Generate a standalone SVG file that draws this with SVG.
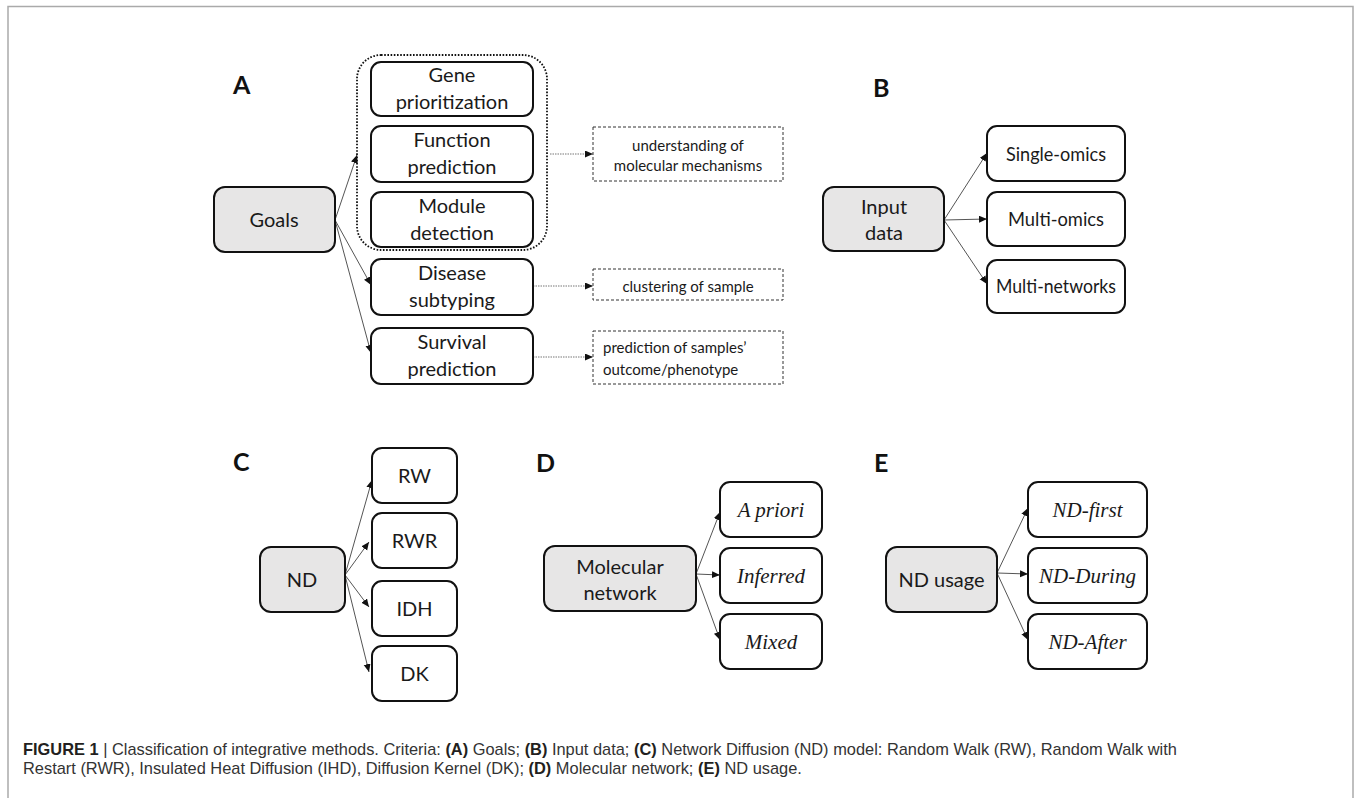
<svg xmlns="http://www.w3.org/2000/svg" width="1354" height="798" viewBox="0 0 1354 798">
<defs>
<marker id="ah" markerUnits="userSpaceOnUse" markerWidth="9" markerHeight="8" refX="8" refY="3.5" orient="auto">
<path d="M0,0 L8,3.5 L0,7 z" fill="#111"/>
</marker>
<style>
.box{fill:#fff;stroke:#111;stroke-width:2}
.par{fill:#e7e6e6;stroke:#111;stroke-width:2}
.t{font-family:Lato,"Liberation Sans",sans-serif;font-size:20px;fill:#1a1a1a;text-anchor:middle}
.ts{font-family:Lato,"Liberation Sans",sans-serif;font-size:15px;fill:#1a1a1a;text-anchor:middle}
.ti{font-family:"Liberation Serif","DejaVu Serif",serif;font-style:italic;font-size:21px;fill:#1a1a1a;text-anchor:middle}
.lab{font-family:Lato,"Liberation Sans",sans-serif;font-weight:bold;font-size:25px;fill:#111}
.con{stroke:#555;stroke-width:1;fill:none;marker-end:url(#ah)}
.dcon{stroke:#777;stroke-width:1;stroke-dasharray:1.5 1;fill:none;marker-end:url(#ah)}
.dash{fill:#fff;stroke:#333;stroke-width:1;stroke-dasharray:3 2}
.cap{font-family:"Liberation Sans",Arial,sans-serif;font-size:16.4px;fill:#333}
.b{font-weight:bold;fill:#231f20}
</style>
</defs>
<rect x="8" y="6.5" width="1345" height="830" fill="none" stroke="#aaa" stroke-width="1.5"/>

<g id="labels">
<text class="lab" x="233" y="94">A</text>
<text class="lab" x="873" y="97">B</text>
<text class="lab" x="233" y="471">C</text>
<text class="lab" x="536" y="472">D</text>
<text class="lab" x="874" y="472">E</text>
</g>

<g id="connectors">
<line class="con" x1="335" y1="220" x2="357" y2="155"/>
<line class="con" x1="335" y1="220" x2="371" y2="285"/>
<line class="con" x1="335" y1="220" x2="371" y2="353"/>
<line class="dcon" x1="550" y1="154" x2="593" y2="154"/>
<line class="dcon" x1="533" y1="286" x2="593" y2="286"/>
<line class="dcon" x1="533" y1="357" x2="593" y2="357"/>
<line class="con" x1="944" y1="220" x2="987" y2="153"/>
<line class="con" x1="944" y1="220" x2="987" y2="219"/>
<line class="con" x1="944" y1="220" x2="987" y2="284"/>
<line class="con" x1="345" y1="575" x2="372" y2="480"/>
<line class="con" x1="345" y1="575" x2="369" y2="542"/>
<line class="con" x1="345" y1="575" x2="369" y2="607"/>
<line class="con" x1="345" y1="575" x2="369" y2="672"/>
<line class="con" x1="696" y1="574" x2="720" y2="512"/>
<line class="con" x1="696" y1="574" x2="720" y2="575"/>
<line class="con" x1="696" y1="574" x2="720" y2="640"/>
<line class="con" x1="997" y1="573" x2="1028" y2="508"/>
<line class="con" x1="997" y1="573" x2="1028" y2="574"/>
<line class="con" x1="997" y1="573" x2="1028" y2="640"/>
</g>

<g id="groupA">
<rect x="357" y="55" width="190" height="195" rx="24" fill="none" stroke="#111" stroke-width="1.8" stroke-dasharray="1.6 1.6"/>
</g>
<g id="goals"><rect class="par" x="214" y="187" width="121" height="65" rx="11"/><text class="t" x="274" y="227">Goals</text></g>
<g id="gene"><rect class="box" x="371" y="62" width="162" height="54" rx="10"/><text class="t" x="452" y="82">Gene</text><text class="t" x="452" y="109">prioritization</text></g>
<g id="function"><rect class="box" x="371" y="126" width="162" height="56" rx="10"/><text class="t" x="452" y="147">Function</text><text class="t" x="452" y="174">prediction</text></g>
<g id="module"><rect class="box" x="371" y="192" width="162" height="55" rx="10"/><text class="t" x="452" y="213">Module</text><text class="t" x="452" y="240">detection</text></g>
<g id="disease"><rect class="box" x="371" y="259" width="162" height="56" rx="10"/><text class="t" x="452" y="280">Disease</text><text class="t" x="452" y="307">subtyping</text></g>
<g id="survival"><rect class="box" x="371" y="328" width="162" height="56" rx="10"/><text class="t" x="452" y="349">Survival</text><text class="t" x="452" y="376">prediction</text></g>
<g id="understanding"><rect class="dash" x="593" y="127" width="190" height="54"/><text class="ts" x="688" y="150.5">understanding of</text><text class="ts" x="688" y="170.5">molecular mechanisms</text></g>
<g id="clustering"><rect class="dash" x="593" y="269" width="190" height="31"/><text class="ts" x="688" y="291.5">clustering of sample</text></g>
<g id="predsamples"><rect class="dash" x="593" y="331" width="190" height="53"/><text class="ts" x="603" y="352.5" style="text-anchor:start">prediction of samples’</text><text class="ts" x="603" y="374.5" style="text-anchor:start">outcome/phenotype</text></g>

<g id="input"><rect class="par" x="823" y="187" width="121" height="64" rx="11"/><text class="t" x="884" y="214">Input</text><text class="t" x="884" y="240">data</text></g>
<g id="single"><rect class="box" x="987" y="126" width="138" height="55" rx="10"/><text class="t" x="1056" y="160.5" textLength="100" lengthAdjust="spacingAndGlyphs">Single-omics</text></g>
<g id="multiomics"><rect class="box" x="987" y="192" width="138" height="54" rx="10"/><text class="t" x="1056" y="226" textLength="96" lengthAdjust="spacingAndGlyphs">Multi-omics</text></g>
<g id="multinet"><rect class="box" x="987" y="260" width="138" height="53" rx="10"/><text class="t" x="1056" y="293" textLength="120" lengthAdjust="spacingAndGlyphs">Multi-networks</text></g>

<g id="nd"><rect class="par" x="260" y="547" width="85" height="65" rx="11"/><text class="t" x="302" y="587">ND</text></g>
<g id="rw"><rect class="box" x="372" y="448" width="85" height="55" rx="10"/><text class="t" x="414.5" y="482.5">RW</text></g>
<g id="rwr"><rect class="box" x="372" y="513" width="85" height="55" rx="10"/><text class="t" x="414.5" y="547.5">RWR</text></g>
<g id="idh"><rect class="box" x="372" y="581" width="85" height="55" rx="10"/><text class="t" x="414.5" y="615.5">IDH</text></g>
<g id="dk"><rect class="box" x="372" y="646" width="85" height="55" rx="10"/><text class="t" x="414.5" y="680.5">DK</text></g>

<g id="molnet"><rect class="par" x="544" y="546" width="152" height="65" rx="11"/><text class="t" x="620" y="574">Molecular</text><text class="t" x="620" y="600">network</text></g>
<g id="apriori"><rect class="box" x="720" y="482" width="102" height="55" rx="10"/><text class="ti" x="771" y="516.5">A priori</text></g>
<g id="inferred"><rect class="box" x="720" y="548" width="102" height="55" rx="10"/><text class="ti" x="771" y="582.5">Inferred</text></g>
<g id="mixed"><rect class="box" x="720" y="614" width="102" height="55" rx="10"/><text class="ti" x="771" y="648.5">Mixed</text></g>

<g id="ndusage"><rect class="par" x="886" y="547" width="111" height="65" rx="11"/><text class="t" x="941.5" y="587">ND usage</text></g>
<g id="ndfirst"><rect class="box" x="1028" y="482" width="119" height="55" rx="10"/><text class="ti" x="1087.5" y="516.5">ND-first</text></g>
<g id="ndduring"><rect class="box" x="1028" y="548" width="119" height="55" rx="10"/><text class="ti" x="1087.5" y="582.5">ND-During</text></g>
<g id="ndafter"><rect class="box" x="1028" y="614" width="119" height="55" rx="10"/><text class="ti" x="1087.5" y="648.5">ND-After</text></g>

<g id="caption">
<text class="cap" x="23" y="755"><tspan class="b">FIGURE 1</tspan> | Classification of integrative methods. Criteria: <tspan class="b">(A)</tspan> Goals; <tspan class="b">(B)</tspan> Input data; <tspan class="b">(C)</tspan> Network Diffusion (ND) model: Random Walk (RW), Random Walk with</text>
<text class="cap" x="23" y="774">Restart (RWR), Insulated Heat Diffusion (IHD), Diffusion Kernel (DK); <tspan class="b">(D)</tspan> Molecular network; <tspan class="b">(E)</tspan> ND usage.</text>
</g>
</svg>
